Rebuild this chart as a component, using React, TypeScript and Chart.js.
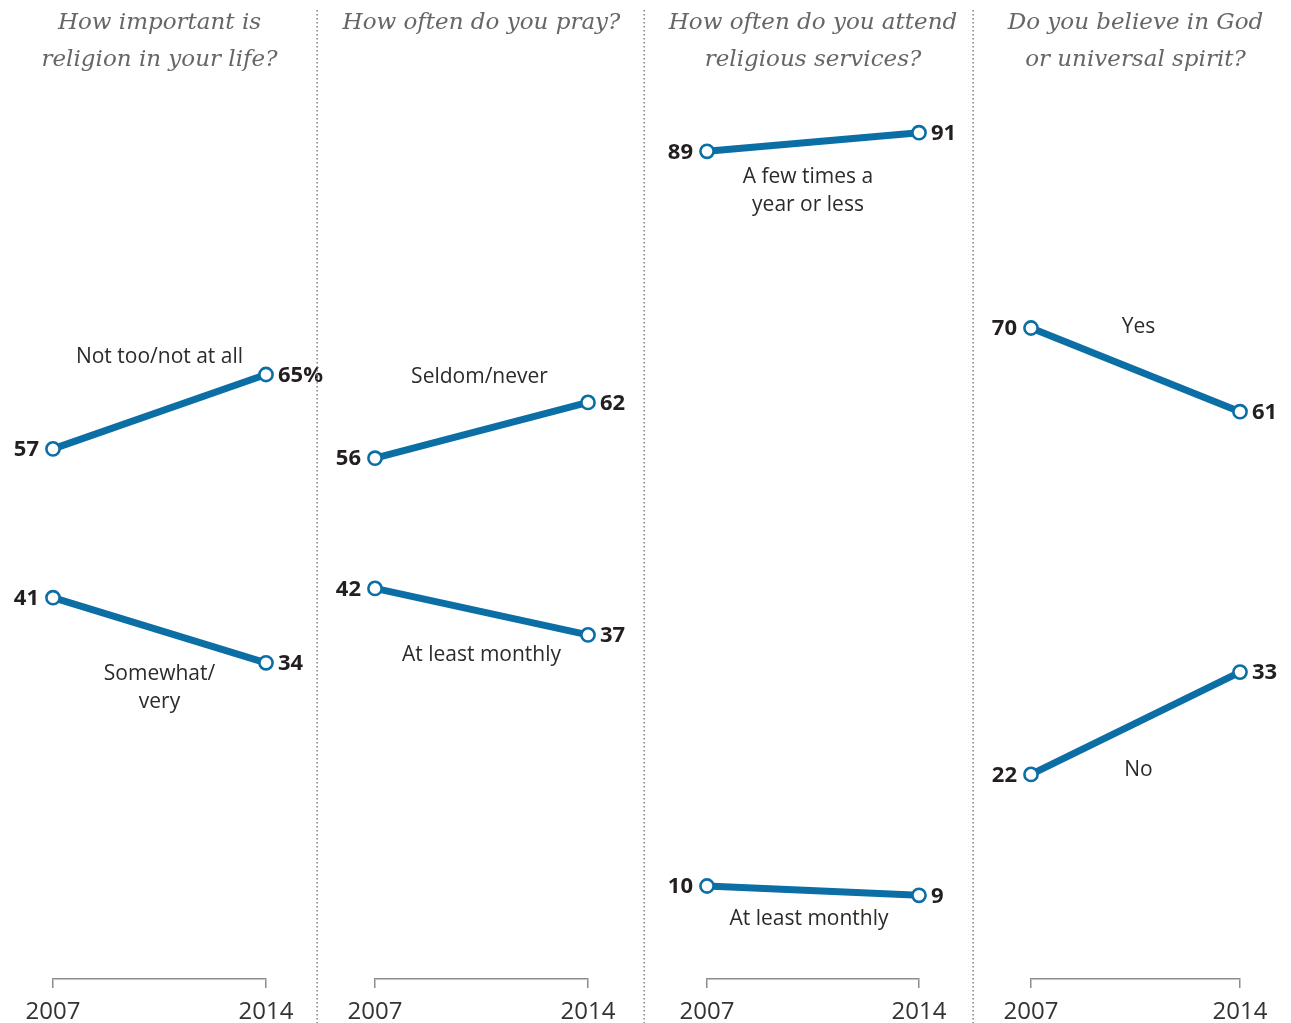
import React, { useEffect, useRef } from "react";
import { Chart, registerables } from "chart.js";

Chart.register(...registerables);

// ---- data ----
const years = [2007, 2014];
const questionTitles = [
  ["How important is", "religion in your life?"],
  ["How often do you pray?"],
  ["How often do you attend", "religious services?"],
  ["Do you believe in God", "or universal spirit?"],
];
const upperSeries = [
  [57, 65],
  [56, 62],
  [89, 91],
  [70, 61],
];
const lowerSeries = [
  [41, 34],
  [42, 37],
  [10, 9],
  [22, 33],
];
const upperNames = [["Not too/not at all"], ["Seldom/never"], ["A few times a", "year or less"], ["Yes"]];
const lowerNames = [["Somewhat/", "very"], ["At least monthly"], ["At least monthly"], ["No"]];

// ---- layout / style ----
const PANEL_LEFT = [0, 318, 645, 974];
const PANEL_WIDTH = [318, 327, 329, 317];
const EXTRA = 30; // canvas overhang so right-hand labels can cross the separator
const PAD_LEFT = [53, 57, 62, 57];
const PAD_RIGHT = [52, 57, 55, 51];
const NAME_OFFSET = [
  [[0, -55], [0, 44]],
  [[-2, -53], [0, 43]],
  [[-5, 35], [-4, 28]],
  [[3, -43], [3, 47]],
];
const BLUE = "#0b6ea5";
const SANS = "'Open Sans', 'DejaVu Sans', sans-serif";
const SERIF = "'DejaVu Serif', serif";
const H = 1023;

function Panel({ index }: { index: number }) {
  const ref = useRef<HTMLCanvasElement | null>(null);
  const width = PANEL_WIDTH[index] + EXTRA;
  useEffect(() => {
    const canvas = ref.current;
    if (!canvas) return;
    const mk = (vals: number[]) => years.map((x, i) => ({ x, y: vals[i] }));
    const lineStyle = {
      borderColor: BLUE,
      borderWidth: 7,
      pointRadius: 6.6,
      pointBorderWidth: 2.6,
      pointBackgroundColor: "#ffffff",
      pointBorderColor: BLUE,
      tension: 0,
      clip: false as any,
    };
    const annot = {
      id: "annot" + index,
      afterDatasetsDraw(chart: any) {
        const ctx = chart.ctx as CanvasRenderingContext2D;
        const xs = chart.scales.x;
        const ys = chart.scales.y;
        const area = chart.chartArea;
        ctx.save();
        // title
        ctx.font = `italic 23px ${SERIF}`;
        ctx.fillStyle = "#666666";
        ctx.textAlign = "center";
        ctx.textBaseline = "middle";
        const cx = (area.left + area.right) / 2;
        questionTitles[index].forEach((t, i) => ctx.fillText(t, cx, 23 + i * 37));
        // value labels
        ctx.font = `bold 22px ${SANS}`;
        ctx.fillStyle = "#231f20";
        chart.data.datasets.forEach((ds: any, di: number) => {
          const meta = chart.getDatasetMeta(di);
          meta.data.forEach((pt: any, pi: number) => {
            const v = ds.data[pi].y;
            const txt = String(v) + (index === 0 && di === 0 && pi === 1 ? "%" : "");
            if (pi === 0) {
              ctx.textAlign = "right";
              ctx.fillText(txt, pt.x - 14, pt.y + 1);
            } else {
              ctx.textAlign = "left";
              ctx.fillText(txt, pt.x + 12, pt.y + 1);
            }
          });
        });
        // series names
        ctx.font = `21px ${SANS}`;
        ctx.fillStyle = "#2b2b2b";
        ctx.textAlign = "center";
        [upperNames[index], lowerNames[index]].forEach((lines, di) => {
          const vals = di === 0 ? upperSeries[index] : lowerSeries[index];
          const midX = xs.getPixelForValue((years[0] + years[1]) / 2);
          const midY = ys.getPixelForValue((vals[0] + vals[1]) / 2);
          const [dx, dy] = NAME_OFFSET[index][di];
          lines.forEach((l, i) => ctx.fillText(l, midX + dx, midY + dy + i * 28));
        });
        // dotted separator
        if (index < 3) {
          ctx.strokeStyle = "#8a8a8a";
          ctx.lineWidth = 1.6;
          ctx.setLineDash([1.6, 2.4]);
          ctx.beginPath();
          ctx.moveTo(PANEL_WIDTH[index] - 0.8, 10);
          ctx.lineTo(PANEL_WIDTH[index] - 0.8, chart.height);
          ctx.stroke();
        }
        ctx.restore();
      },
    };
    const chart = new Chart(canvas, {
      type: "line",
      data: {
        datasets: [
          { ...lineStyle, label: upperNames[index].join(" "), data: mk(upperSeries[index]) },
          { ...lineStyle, label: lowerNames[index].join(" "), data: mk(lowerSeries[index]) },
        ],
      },
      options: {
        animation: false,
        responsive: false,
        maintainAspectRatio: false,
        layout: { padding: { left: PAD_LEFT[index], right: PAD_RIGHT[index] + EXTRA, top: 49, bottom: 0 } },
        plugins: {
          legend: { display: false },
          tooltip: { enabled: false },
          title: { display: false },
        },
        scales: {
          x: {
            type: "linear",
            min: years[0],
            max: years[1],
            position: "bottom",
            afterBuildTicks: (s: any) => {
              s.ticks = years.map((v) => ({ value: v }));
            },
            afterFit: (s: any) => {
              s.height = 44;
            },
            grid: { drawOnChartArea: false, drawTicks: true, tickLength: 9, color: "#8c8c8c", lineWidth: 1.5 },
            border: { display: true, color: "#8c8c8c", width: 1.5 },
            ticks: {
              callback: (v: any) => String(v),
              font: { family: SANS, size: 24 },
              color: "#333333",
              padding: 10,
              maxRotation: 0,
              autoSkip: false,
            },
          },
          y: { min: 0, max: 100, display: false },
        },
      } as any,
      plugins: [annot],
    });
    return () => chart.destroy();
  }, [index]);
  return (
    <canvas
      ref={ref}
      width={width}
      height={H}
      style={{ position: "absolute", left: PANEL_LEFT[index], top: 0, width, height: H }}
    />
  );
}

export default function App() {
  return (
    <div style={{ position: "absolute", left: 0, top: 0, width: 1291, height: H, background: "#ffffff", overflow: "hidden" }}>
      {[0, 1, 2, 3].map((i) => (
        <Panel key={i} index={i} />
      ))}
    </div>
  );
}
